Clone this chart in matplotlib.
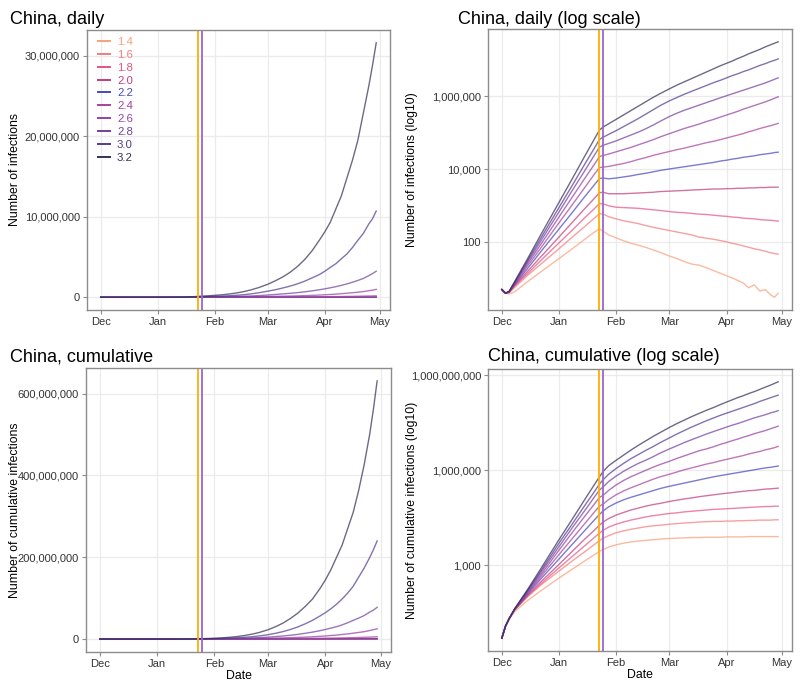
import matplotlib
matplotlib.use("Agg")
import matplotlib.pyplot as plt
from matplotlib.ticker import FuncFormatter, FixedLocator, NullLocator
from matplotlib.lines import Line2D
import numpy as np

plt.rcParams['font.family'] = ['Liberation Sans', 'DejaVu Sans']

# ---------------- data ----------------
dates = ['2019-12-01', '2019-12-03', '2019-12-05', '2019-12-08', '2019-12-15',
         '2019-12-22', '2020-01-01', '2020-01-08', '2020-01-15', '2020-01-20',
         '2020-01-23', '2020-01-25', '2020-01-28', '2020-02-01', '2020-02-05',
         '2020-02-09', '2020-02-13', '2020-02-17', '2020-02-21', '2020-02-25',
         '2020-03-01', '2020-03-05', '2020-03-09', '2020-03-13', '2020-03-17',
         '2020-03-21', '2020-03-25', '2020-03-29', '2020-04-01', '2020-04-04',
         '2020-04-07', '2020-04-10', '2020-04-13', '2020-04-16', '2020-04-19',
         '2020-04-22', '2020-04-25', '2020-04-27', '2020-04-29']

r_labels = ['1.4', '1.6', '1.8', '2.0', '2.2', '2.4', '2.6', '2.8', '3.0', '3.2']
r_colors = ['#F9A07D', '#F47C7B', '#E95482', '#C13E7E', '#4848C0',
            '#A8439E', '#9540A4', '#74409E', '#543C8F', '#353057']

# daily infections, log10 values
daily_log10_14 = [0.70, 0.60, 0.58, 0.64, 0.92, 1.18, 1.55, 1.81, 2.08, 2.27, 2.37,
                  2.30, 2.20, 2.12, 2.04, 1.97, 1.92, 1.86, 1.79, 1.72, 1.62, 1.55, 1.47, 1.40, 1.37,
                  1.30, 1.22, 1.14, 1.08, 1.02, 0.95, 0.88, 0.75, 0.83, 0.66, 0.70, 0.55, 0.49, 0.60]
daily_log10_16 = [0.70, 0.60, 0.62, 0.76, 1.09, 1.39, 1.82, 2.13, 2.43, 2.65, 2.78,
                  2.77, 2.70, 2.64, 2.59, 2.55, 2.51, 2.46, 2.41, 2.37, 2.32, 2.28, 2.24, 2.20, 2.14,
                  2.11, 2.08, 2.04, 2.01, 1.97, 1.94, 1.90, 1.86, 1.82, 1.79, 1.75, 1.71, 1.69, 1.67]
daily_log10_18 = [0.70, 0.60, 0.62, 0.80, 1.14, 1.49, 1.98, 2.32, 2.67, 2.91, 3.06,
                  3.05, 3.00, 2.96, 2.95, 2.94, 2.93, 2.91, 2.89, 2.87, 2.84, 2.82, 2.81, 2.79, 2.77,
                  2.76, 2.74, 2.72, 2.71, 2.69, 2.68, 2.66, 2.65, 2.64, 2.62, 2.61, 2.60, 2.59, 2.58]
daily_log10_20 = [0.70, 0.60, 0.63, 0.82, 1.20, 1.59, 2.14, 2.53, 2.92, 3.19, 3.36,
                  3.37, 3.33, 3.33, 3.33, 3.34, 3.35, 3.36, 3.37, 3.39, 3.40, 3.41, 3.42, 3.43, 3.44,
                  3.45, 3.46, 3.46, 3.47, 3.47, 3.48, 3.48, 3.49, 3.49, 3.50, 3.50, 3.51, 3.51, 3.51]
daily_log10_22 = [0.70, 0.60, 0.64, 0.84, 1.28, 1.73, 2.36, 2.80, 3.25, 3.56, 3.75,
                  3.76, 3.74, 3.76, 3.79, 3.82, 3.86, 3.89, 3.93, 3.97, 4.01, 4.04, 4.07, 4.10, 4.13,
                  4.16, 4.19, 4.23, 4.25, 4.28, 4.30, 4.33, 4.35, 4.37, 4.40, 4.42, 4.44, 4.46, 4.47]
daily_log10_24 = [0.70, 0.60, 0.64, 0.86, 1.35, 1.83, 2.53, 3.01, 3.50, 3.85, 4.05,
                  4.06, 4.08, 4.12, 4.16, 4.21, 4.27, 4.32, 4.38, 4.43, 4.49, 4.54, 4.58, 4.63, 4.68,
                  4.73, 4.77, 4.82, 4.86, 4.90, 4.94, 4.98, 5.03, 5.07, 5.12, 5.16, 5.20, 5.23, 5.26]
daily_log10_26 = [0.70, 0.60, 0.65, 0.88, 1.41, 1.93, 2.69, 3.22, 3.75, 4.12, 4.35,
                  4.38, 4.42, 4.48, 4.54, 4.60, 4.67, 4.74, 4.81, 4.89, 4.98, 5.05, 5.12, 5.18, 5.24,
                  5.31, 5.37, 5.44, 5.49, 5.54, 5.59, 5.65, 5.70, 5.75, 5.80, 5.85, 5.91, 5.95, 5.99]
daily_log10_28 = [0.70, 0.60, 0.65, 0.89, 1.46, 2.02, 2.83, 3.40, 3.96, 4.37, 4.61,
                  4.66, 4.71, 4.78, 4.86, 4.94, 5.02, 5.11, 5.21, 5.32, 5.45, 5.54, 5.62, 5.69, 5.76,
                  5.83, 5.90, 5.97, 6.02, 6.07, 6.12, 6.17, 6.22, 6.27, 6.32, 6.37, 6.43, 6.47, 6.51]
daily_log10_30 = [0.70, 0.60, 0.65, 0.91, 1.50, 2.10, 2.95, 3.54, 4.14, 4.56, 4.82,
                  4.88, 4.96, 5.06, 5.17, 5.28, 5.39, 5.51, 5.63, 5.75, 5.88, 5.97, 6.06, 6.14, 6.22,
                  6.30, 6.38, 6.45, 6.51, 6.57, 6.62, 6.68, 6.73, 6.79, 6.85, 6.90, 6.96, 6.99, 7.03]
daily_log10_32 = [0.70, 0.60, 0.65, 0.92, 1.55, 2.19, 3.09, 3.72, 4.36, 4.81, 5.08,
                  5.16, 5.25, 5.37, 5.49, 5.61, 5.73, 5.85, 5.97, 6.08, 6.21, 6.31, 6.40, 6.49, 6.58,
                  6.67, 6.76, 6.85, 6.91, 6.97, 7.04, 7.10, 7.17, 7.23, 7.29, 7.36, 7.42, 7.46, 7.50]

# cumulative infections, log10 values
cum_log10_14 = [0.70, 1.08, 1.30, 1.54, 1.89, 2.19, 2.60, 2.87, 3.14, 3.33, 3.44,
                3.50, 3.58, 3.65, 3.70, 3.74, 3.77, 3.79, 3.81, 3.83, 3.85, 3.86, 3.87, 3.88, 3.88,
                3.89, 3.89, 3.89, 3.90, 3.90, 3.90, 3.90, 3.91, 3.91, 3.91, 3.91, 3.91, 3.91, 3.91]
cum_log10_16 = [0.70, 1.08, 1.32, 1.59, 2.01, 2.37, 2.82, 3.13, 3.43, 3.65, 3.78,
                3.86, 3.94, 4.03, 4.09, 4.14, 4.18, 4.22, 4.25, 4.27, 4.30, 4.32, 4.34, 4.35, 4.37,
                4.38, 4.39, 4.39, 4.40, 4.40, 4.41, 4.41, 4.42, 4.42, 4.43, 4.43, 4.43, 4.44, 4.44]
cum_log10_18 = [0.70, 1.08, 1.32, 1.60, 2.03, 2.41, 2.92, 3.27, 3.62, 3.87, 4.02,
                4.11, 4.21, 4.30, 4.37, 4.43, 4.48, 4.53, 4.57, 4.60, 4.64, 4.66, 4.69, 4.71, 4.73,
                4.75, 4.77, 4.78, 4.79, 4.80, 4.81, 4.82, 4.83, 4.84, 4.85, 4.86, 4.86, 4.87, 4.87]
cum_log10_20 = [0.70, 1.08, 1.32, 1.60, 2.06, 2.47, 3.03, 3.43, 3.83, 4.10, 4.27,
                4.37, 4.48, 4.59, 4.67, 4.75, 4.81, 4.87, 4.92, 4.96, 5.02, 5.06, 5.10, 5.13, 5.17,
                5.20, 5.23, 5.26, 5.28, 5.30, 5.32, 5.34, 5.36, 5.37, 5.39, 5.41, 5.42, 5.43, 5.44]
cum_log10_22 = [0.70, 1.08, 1.32, 1.61, 2.10, 2.56, 3.20, 3.65, 4.10, 4.42, 4.61,
                4.72, 4.85, 4.97, 5.07, 5.15, 5.22, 5.29, 5.36, 5.43, 5.50, 5.55, 5.60, 5.65, 5.70,
                5.75, 5.80, 5.84, 5.87, 5.90, 5.93, 5.96, 5.99, 6.02, 6.05, 6.08, 6.10, 6.12, 6.14]
cum_log10_24 = [0.70, 1.08, 1.32, 1.61, 2.13, 2.63, 3.34, 3.83, 4.32, 4.67, 4.87,
                4.94, 5.08, 5.23, 5.35, 5.45, 5.54, 5.63, 5.72, 5.80, 5.88, 5.95, 6.02, 6.08, 6.14,
                6.20, 6.25, 6.31, 6.35, 6.39, 6.43, 6.47, 6.52, 6.56, 6.60, 6.65, 6.69, 6.72, 6.76]
cum_log10_26 = [0.70, 1.08, 1.32, 1.62, 2.16, 2.69, 3.48, 4.02, 4.55, 4.92, 5.15,
                5.21, 5.37, 5.54, 5.68, 5.80, 5.90, 6.00, 6.10, 6.19, 6.29, 6.38, 6.46, 6.54, 6.62,
                6.68, 6.75, 6.83, 6.88, 6.94, 6.99, 7.05, 7.10, 7.16, 7.21, 7.26, 7.32, 7.36, 7.40]
cum_log10_28 = [0.70, 1.08, 1.32, 1.62, 2.19, 2.76, 3.59, 4.17, 4.73, 5.14, 5.38,
                5.48, 5.65, 5.82, 5.97, 6.10, 6.22, 6.32, 6.43, 6.55, 6.68, 6.78, 6.88, 6.97, 7.06,
                7.15, 7.23, 7.31, 7.37, 7.43, 7.48, 7.54, 7.60, 7.66, 7.71, 7.76, 7.82, 7.85, 7.89]
cum_log10_30 = [0.70, 1.08, 1.32, 1.63, 2.21, 2.81, 3.70, 4.29, 4.89, 5.31, 5.57,
                5.71, 5.88, 6.06, 6.22, 6.37, 6.50, 6.63, 6.75, 6.88, 7.03, 7.15, 7.26, 7.37, 7.47,
                7.57, 7.66, 7.75, 7.81, 7.87, 7.93, 7.99, 8.05, 8.11, 8.18, 8.24, 8.30, 8.34, 8.38]
cum_log10_32 = [0.70, 1.08, 1.32, 1.63, 2.24, 2.88, 3.81, 4.44, 5.08, 5.53, 5.80,
                5.97, 6.15, 6.32, 6.48, 6.64, 6.79, 6.93, 7.07, 7.20, 7.36, 7.48, 7.59, 7.70, 7.80,
                7.90, 7.99, 8.09, 8.16, 8.23, 8.30, 8.36, 8.43, 8.49, 8.56, 8.63, 8.70, 8.75, 8.80]

intervention_dates = ['2020-01-23', '2020-01-25']
intervention_colors = ['#FFB000', '#9D63CF']

month_ticks = ['2019-12-01', '2020-01-01', '2020-02-01', '2020-03-01', '2020-04-01', '2020-05-01']
month_labels = ['Dec', 'Jan', 'Feb', 'Mar', 'Apr', 'May']

daily_ticks = [0, 10_000_000, 20_000_000, 30_000_000]
daily_log_ticks = [100, 10_000, 1_000_000]
cum_ticks = [0, 200_000_000, 400_000_000, 600_000_000]
cum_log_ticks = [1_000, 1_000_000, 1_000_000_000]

daily_series = [daily_log10_14, daily_log10_16, daily_log10_18, daily_log10_20, daily_log10_22,
                daily_log10_24, daily_log10_26, daily_log10_28, daily_log10_30, daily_log10_32]
cum_series = [cum_log10_14, cum_log10_16, cum_log10_18, cum_log10_20, cum_log10_22,
              cum_log10_24, cum_log10_26, cum_log10_28, cum_log10_30, cum_log10_32]

# ---------------- drawing ----------------
W, H = 800, 684
fig = plt.figure(figsize=(W / 100, H / 100), dpi=100)


def box(l, t, r, b):
    return [l / W, 1 - b / H, (r - l) / W, (b - t) / H]


x = np.array(dates, dtype='datetime64[D]')
xticks = np.array(month_ticks, dtype='datetime64[D]')
comma = FuncFormatter(lambda v, _: f"{v:,.0f}")
GRID = '#EBEBEB'
EDGE = '#8C8C8C'
TXT = '#333333'


def style(ax, yticks, log, ylabel, xlabel, ylab_x):
    for s in ax.spines.values():
        s.set_color(EDGE)
        s.set_linewidth(1.0)
    if log:
        ax.set_yscale('log')
    ax.yaxis.set_major_locator(FixedLocator(yticks))
    ax.yaxis.set_minor_locator(NullLocator())
    ax.yaxis.set_major_formatter(comma)
    ax.set_xticks(xticks)
    ax.set_xticklabels(month_labels)
    ax.xaxis.set_minor_locator(NullLocator())
    ax.tick_params(direction='out', length=3, width=0.8, color=EDGE,
                   labelcolor=TXT, labelsize=8.0, pad=2)
    ax.grid(True, color=GRID, linewidth=0.9)
    ax.set_axisbelow(True)
    ax.set_ylabel(ylabel, fontsize=8.8, color='black')
    ax.yaxis.set_label_coords(ylab_x, 0.5)
    if xlabel:
        ax.set_xlabel(xlabel, fontsize=8.8, color='black', labelpad=1)
    ax.margins(x=0.05, y=0.05)


panels = [
    (box(87, 30, 390, 310), daily_series, False, daily_ticks, 'Number of infections', None, -0.218),
    (box(488, 29, 792, 310), daily_series, True, daily_log_ticks, 'Number of infections (log10)', None, -0.230),
    (box(86, 368, 391, 652), cum_series, False, cum_ticks, 'Number of cumulative infections', 'Date', -0.213),
    (box(488, 369, 792, 651), cum_series, True, cum_log_ticks, 'Number of cumulative infections (log10)', 'Date', -0.230),
]

axes = []
for rect, series, log, yt, ylab, xlab, lx in panels:
    ax = fig.add_axes(rect)
    for vals, c in zip(series, r_colors):
        ax.plot(x, np.power(10.0, vals), color=c, lw=1.0, alpha=0.72)
    for d, c in zip(intervention_dates, intervention_colors):
        ax.axvline(np.datetime64(d), color=c, lw=1.3)
    style(ax, yt, log, ylab, xlab, lx)
    axes.append(ax)

# titles
titles = ['China, daily', 'China, daily (log scale)', 'China, cumulative', 'China, cumulative (log scale)']
title_pos = [(10, 24), (458, 24), (10, 361), (488, 361)]
for t, (px, py) in zip(titles, title_pos):
    fig.text(px / W, 1 - py / H, t, fontsize=13, ha='left', va='baseline', color='black')

# legend in the first panel
handles = [Line2D([0], [0], color=c, lw=1.4) for c in r_colors]
leg = axes[0].legend(handles, r_labels, loc='upper left', bbox_to_anchor=(0.035, 0.975),
                     frameon=False, fontsize=8.2, handlelength=1.1, handletextpad=0.6,
                     labelspacing=0.25, borderaxespad=0, borderpad=0)
for txt, c in zip(leg.get_texts(), r_colors):
    txt.set_color(c)

fig.savefig('out.png', dpi=100, facecolor='white')
